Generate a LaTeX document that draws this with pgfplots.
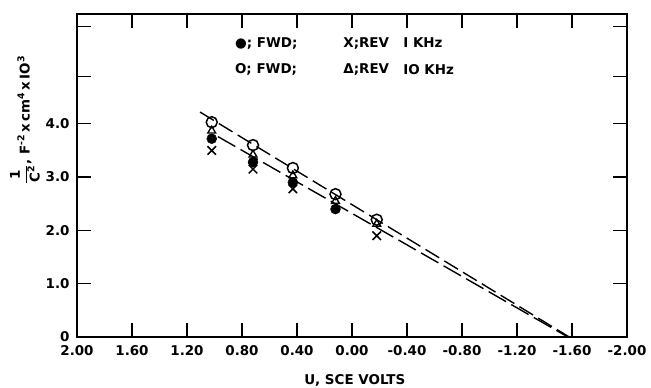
\documentclass[border=0pt]{standalone}
\usepackage{fontspec}
\setmainfont{DejaVu Sans}
\usepackage{pgfplots}
\pgfplotsset{compat=1.18}
\newcommand{\lfont}{\fontsize{13.5}{16}\selectfont\bfseries}
\begin{document}
\begin{tikzpicture}
\begin{axis}[name=ax, scale only axis, width=550bp, height=323bp,
  x dir=reverse, xmin=-2, xmax=2, ymin=0, ymax=6.06,
  xtick={2,1.6,1.2,0.8,0.4,0,-0.4,-0.8,-1.2,-1.6,-2},
  xticklabels={2.00,1.60,1.20,0.80,0.40,0.00,-0.40,-0.80,-1.20,-1.60,-2.00},
  ytick={0,1,2,3,4,4.89,5.83},
  yticklabels={0,1.0,2.0,3.0,4.0,{},{}},
  tick align=inside, major tick length=14bp,
  tick style={line width=1.3pt, black},
  axis line style={line width=1.5pt},
  ticklabel style={font=\lfont},
  xticklabel style={yshift=-5bp},
  yticklabel style={xshift=-4bp},
  clip=false]
\addplot[black, line width=1.4pt, dash pattern=on 16bp off 6bp] coordinates {(1.105,4.22) (-1.58,0)};
\addplot[black, line width=1.4pt, dash pattern=on 20bp off 6bp] coordinates {(0.975,3.76) (-1.57,0)};
\addplot[only marks, mark=*, mark size=5bp, black] coordinates {(1.02,3.72) (0.72,3.28) (0.43,2.90) (0.12,2.40)};
\addplot[only marks, mark=x, mark size=6bp, black, mark options={line width=1.5pt}] coordinates {(1.02,3.50) (0.72,3.15) (0.43,2.78) (-0.18,1.90)};
\addplot[only marks, mark=triangle, mark size=4.5bp, black, mark options={line width=1.4pt, fill=white}] coordinates {(1.02,3.87) (0.72,3.42) (0.43,3.03) (0.12,2.55) (-0.18,2.12)};
\addplot[only marks, mark=o, mark size=5.5bp, black, mark options={line width=1.5pt}] coordinates {(1.02,4.03) (0.72,3.60) (0.43,3.17) (0.12,2.68) (-0.18,2.20)};
\begin{scope}[every node/.style={font=\lfont, anchor=west, inner sep=0pt}]
\node at (rel axis cs:0.287,0.910) {●; FWD;};
\node at (rel axis cs:0.287,0.827) {O; FWD;};
\node at (rel axis cs:0.484,0.910) {X;REV};
\node at (rel axis cs:0.484,0.827) {Δ;REV};
\node at (rel axis cs:0.593,0.910) {I KHz};
\node at (rel axis cs:0.593,0.827) {IO KHz};
\end{scope}
\node[rotate=90, font=\lfont, inner sep=0pt] at ([xshift=-52bp]rel axis cs:0,0.672) {$\displaystyle\frac{\mbox{\lfont 1}}{\mbox{\lfont C\textsuperscript{2}}}$, F\textsuperscript{-2}\,x\,cm\textsuperscript{4}\,x\,IO\textsuperscript{3}};
\node[font=\lfont, inner sep=0pt] at ([yshift=-43bp]rel axis cs:0.505,0) {U, SCE VOLTS};
\end{axis}
\pgfresetboundingbox
\path ([shift={(-77bp,-50bp)}]ax.south west) rectangle ([shift={(24bp,14bp)}]ax.north east);
\end{tikzpicture}
\end{document}
